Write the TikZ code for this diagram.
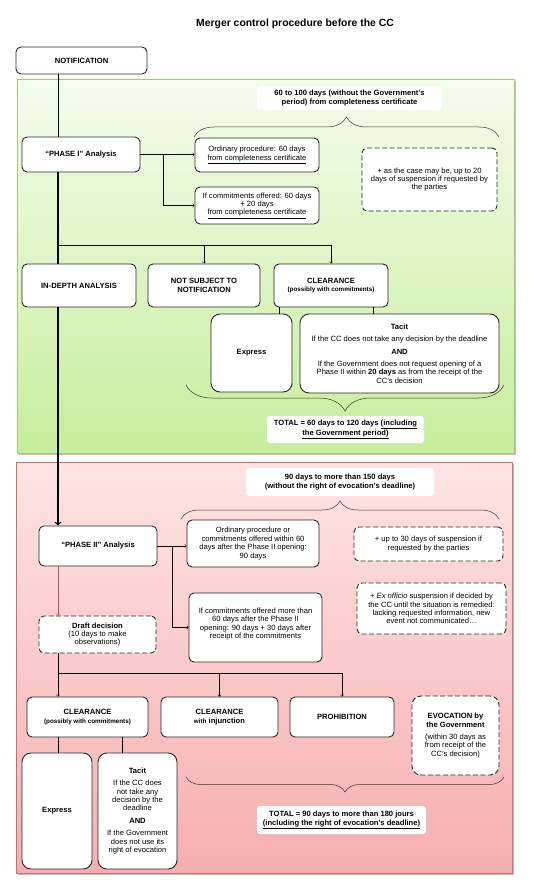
\documentclass[tikz,border=0pt]{standalone}
\usepackage{fontspec}
\setmainfont{Liberation Sans}
\usepackage{xcolor}
\usetikzlibrary{decorations.pathreplacing}
\definecolor{oneline}{HTML}{A3CB6E}
\definecolor{onetop}{HTML}{F4FCEC}
\definecolor{onebot}{HTML}{C6EE9C}
\definecolor{twoline}{HTML}{C46F6F}
\definecolor{twotop}{HTML}{FFE4E4}
\definecolor{twobot}{HTML}{F6AEAE}
\definecolor{draftline}{HTML}{9A5E5E}
\tikzstyle{stage} = [rectangle, rounded corners=5pt, draw=black!85, line width=0.9pt, fill=white, align=center, inner sep=2pt, font=\fontsize{7.6}{8.4}\selectfont]
\tikzstyle{maybe} = [stage, dash pattern=on 5pt off 2.5pt]
\tikzstyle{period} = [rectangle, rounded corners=3pt, fill=white, align=center, inner sep=2pt, font=\bfseries\fontsize{7.6}{8.4}\selectfont]
\tikzstyle{arrow} = [line width=0.5pt,->,>=to]
\tikzstyle{link} = [line width=0.6pt]
\tikzstyle{main} = [line width=1.4pt]
\tikzstyle{span} = [decorate, line width=0.5pt, black!80]
\newcommand{\smallbf}{\fontsize{6.3}{7.5}\selectfont\bfseries}

\begin{document}
\begin{tikzpicture}[x=1pt, y=-1pt]
\useasboundingbox (0,0) rectangle (532,882);

% the two phases
\fill[black!25] (19,81) rectangle (516,455);
\draw[oneline, top color=onetop, bottom color=onebot, line width=0.8pt] (17,79) rectangle (514,453);
\fill[black!25] (18,464) rectangle (514,875);
\draw[twoline, top color=twotop, bottom color=twobot, line width=0.8pt] (16,462) rectangle (512,873);

\node (title) at (295,24) {\bfseries\fontsize{10.4}{12}\selectfont Merger control procedure before the CC};

\node (notif) [stage, minimum width=131pt, minimum height=27pt] at (81.5,60.5) {\bfseries NOTIFICATION};

% phase I
\node (per1) [period, minimum width=185pt, minimum height=24pt] at (349.5,98) {60 to 100 days (without the Government’s\\ period) from completeness certificate};
\node (ph1) [stage, minimum width=118pt, minimum height=35pt] at (81,154.5) {\bfseries “PHASE I” Analysis};
\node (ord1) [stage, minimum width=124pt, minimum height=34pt] at (257,155) {Ordinary procedure: 60 days\\ \underline{from completeness certificate}};
\node (com1) [stage, minimum width=124pt, minimum height=37pt] at (257,205.5) {If commitments offered: 60 days\\ + 20 days\\ \underline{from completeness certificate}};
\node (note1) [maybe, minimum width=135pt, minimum height=63pt] at (429.5,179.5) {+ as the case may be, up to 20\\ days of suspension if requested by\\ the parties};
\node (indepth) [stage, minimum width=114pt, minimum height=43pt] at (79,285.5) {\bfseries IN-DEPTH ANALYSIS};
\node (nosub) [stage, minimum width=112pt, minimum height=43pt] at (204,285.5) {\bfseries NOT SUBJECT TO\\ \bfseries NOTIFICATION};
\node (clr1) [stage, minimum width=114pt, minimum height=43pt] at (331,285.5) {\bfseries CLEARANCE\\ {\smallbf (possibly with commitments)}};
\node (exp1) [stage, rounded corners=9pt, minimum width=81pt, minimum height=78pt] at (251.5,353) {\bfseries Express};
\node (tac1) [stage, rounded corners=9pt, minimum width=199pt, minimum height=79pt] at (399.5,353.5) {\bfseries Tacit\\[4pt] If the CC does not take any decision by the deadline\\[4pt] \bfseries AND\\[4pt] If the Government does not request opening of a\\ Phase II within \textbf{20 days} as from the receipt of the\\ CC’s decision};
\node (tot1) [period, minimum width=157pt, minimum height=27pt] at (345.5,429.5) {TOTAL = 60 days to 120 days \underline{(including}\\ \underline{the Government period)}};

% phase II
\node (per2) [period, minimum width=188pt, minimum height=28pt] at (340,482) {90 days to more than 150 days\\ (without the right of evocation’s deadline)};
\node (ph2) [stage, minimum width=118pt, minimum height=40pt] at (98,546) {\bfseries “PHASE II” Analysis};
\node (ord2) [stage, minimum width=132pt, minimum height=47pt] at (253,543.5) {Ordinary procedure or\\ commitments offered within 60\\ days after the Phase II opening:\\ 90 days};
\node (com2) [stage, minimum width=133pt, minimum height=69pt] at (255.5,627.5) {If commitments offered more than\\ 60 days after the Phase II\\ opening: 90 days + 30 days after\\ receipt of the commitments\\ \mbox{}};
\node (note2) [maybe, minimum width=149pt, minimum height=34pt] at (428.5,544) {+ up to 30 days of suspension if\\ requested by the parties};
\node (note3) [maybe, minimum width=149pt, minimum height=51pt] at (431.5,608.5) {+ \textit{Ex officio} suspension if decided by\\ the CC until the situation is remedied:\\ lacking requested information, new\\ event not communicated…};
\node (draft) [maybe, minimum width=117pt, minimum height=37pt] at (97.5,634.5) {\textbf{Draft decision}\\ (10 days to make\\ observations)};
\node (clr2) [stage, minimum width=121pt, minimum height=40pt] at (87.5,717) {\bfseries CLEARANCE\\ {\smallbf (possibly with commitments)}};
\node (clrinj) [stage, minimum width=117pt, minimum height=40pt] at (219.5,717) {\bfseries CLEARANCE\\ {\smallbf with} \bfseries injunction};
\node (prohib) [stage, minimum width=104pt, minimum height=40pt] at (342,717) {\bfseries PROHIBITION};
\node (evoc) [maybe, rounded corners=9pt, minimum width=87pt, minimum height=79pt] at (455.5,735.5) {\bfseries EVOCATION by\\ \bfseries the Government\\[4pt] (within 30 days as\\ from receipt of the\\ CC’s decision)};
\node (exp2) [stage, rounded corners=9pt, minimum width=70pt, minimum height=116pt] at (57,811) {\bfseries Express};
\node (tac2) [stage, rounded corners=9pt, minimum width=79pt, minimum height=116pt] at (137.5,811) {\bfseries Tacit\\[4pt] If the CC does\\ not take any\\ decision by the\\ deadline\\[4pt] \bfseries AND\\[4pt] If the Government\\ does not use its\\ right of evocation};
\node (tot2) [period, minimum width=169pt, minimum height=28pt] at (341.5,820) {TOTAL = 90 days to more than 180 jours\\ \underline{(including the right of evocation’s deadline)}};

% braces
\draw[span, decoration={brace, amplitude=20pt}] (194,137) -- (499,137);
\draw[span, decoration={brace, amplitude=26pt}] (504,385) -- (186,385);
\draw[span, decoration={brace, amplitude=18pt}] (181,519) -- (499,519);
\draw[span, decoration={brace, amplitude=15pt}] (504,777) -- (186,777);

% connectors
\coordinate (trunk) at (58,0);
\coordinate (split1) at (163,0);
\coordinate (split2) at (172,0);
\coordinate (fork1) at (58,245);
\coordinate (fork2) at (58,673);
\coordinate (leg1) at (279,0);
\coordinate (leg2) at (373,0);
\coordinate (leg3) at (122,0);

\draw[link, line width=0.9pt] (notif.south -| trunk) -- (ph1.north -| trunk);
\draw[arrow] (ph1.east) -- (ord1.west |- ph1.east);
\draw[arrow] (ph1.east -| split1) |- (com1.west);
\draw[main] (ph1.south -| trunk) -- (indepth.north -| trunk);
\draw[arrow] (fork1) -| (clr1.north);
\draw[arrow] (fork1 -| nosub.north) -- (nosub.north);
\draw[link] (clr1.south -| leg1) -- (exp1.north -| leg1);
\draw[link] (clr1.south -| leg2) -- (tac1.north -| leg2);
\draw[main, ->, >=to] (indepth.south -| trunk) -- (ph2.north -| trunk);

\draw[arrow] (ph2.east) -- (ord2.west |- ph2.east);
\draw[arrow] (ph2.east -| split2) |- (com2.west);
\draw[arrow, draftline] (ph2.south -| trunk) -- (draft.north -| trunk);
\draw[link] (draft.south -| trunk) -- (fork2);
\draw[arrow] (fork2) -- (clr2.north -| trunk);
\draw[arrow] (fork2) -| (prohib.north);
\draw[arrow] (fork2 -| clrinj.north) -- (clrinj.north);
\draw[link] (clr2.south -| trunk) -- (exp2.north -| trunk);
\draw[link] (clr2.south -| leg3) -- (tac2.north -| leg3);
\end{tikzpicture}
\end{document}
